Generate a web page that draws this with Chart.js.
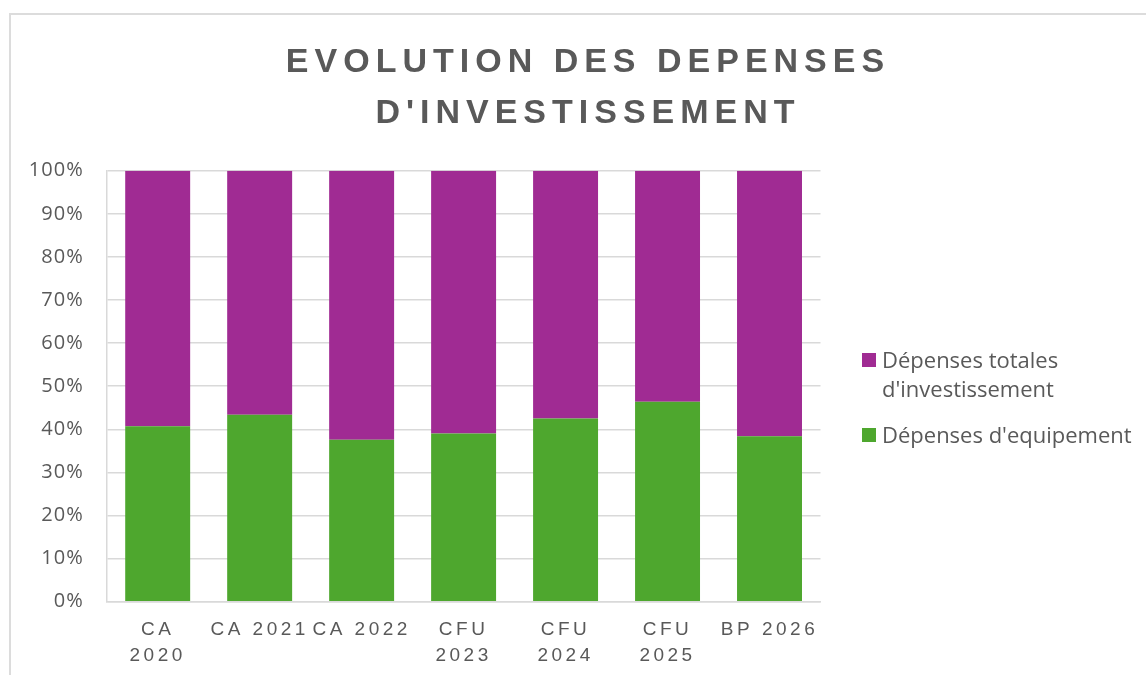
<!DOCTYPE html>
<html>
<head>
<meta charset="utf-8">
<script src="https://cdn.jsdelivr.net/npm/chart.js@4.4.1/dist/chart.umd.min.js"></script>
<style>
html,body{margin:0;padding:0;background:#fff;}
#wrap{position:relative;width:1146px;height:675px;overflow:hidden;background:#fff;}
#frame{position:absolute;left:9px;top:13px;width:1300px;height:800px;border:2px solid #dcdcdc;box-sizing:border-box;}
#c{position:absolute;left:0;top:0;}
#legend{position:absolute;left:862px;top:345px;font-family:"Open Sans",sans-serif;font-size:22px;line-height:29px;color:#595959;}
.item{display:flex;align-items:flex-start;margin-bottom:17px;}
.box{width:14px;height:14px;margin-top:8px;margin-right:6px;flex:none;}
.txt{max-width:262px;white-space:normal;}
</style>
</head>
<body>
<div id="wrap">
  <div id="frame"></div>
  <canvas id="c" width="1146" height="675"></canvas>
  <div id="legend"></div>
</div>
<script>
const categories = [["CA","2020"], "CA 2021", "CA 2022", ["CFU","2023"], ["CFU","2024"], ["CFU","2025"], "BP 2026"];
const depensesEquipement = [40.7, 43.4, 37.6, 39.0, 42.5, 46.4, 38.4];
const depensesTotales = [59.3, 56.6, 62.4, 61.0, 57.5, 53.6, 61.6];
const yTickValues = [0, 10, 20, 30, 40, 50, 60, 70, 80, 90, 100];
const seriesNames = ["Dépenses d'equipement", "Dépenses totales d'investissement"];
const titleLines = ["EVOLUTION DES DEPENSES", "D'INVESTISSEMENT"];

const GREEN = '#4EA72E', PURPLE = '#A02B93', TEXT = '#595959', GRID = '#d9d9d9';

const spacingPlugin = {
  id: 'spacing',
  beforeDraw(chart) {
    const ctx = chart.ctx;
    const patch = (obj, fnName, spacing, dx) => {
      if (!obj || obj['__p_' + fnName]) return;
      const orig = obj[fnName];
      obj[fnName] = function(...args) {
        ctx.save();
        ctx.letterSpacing = spacing;
        if (dx) ctx.translate(dx(), 0);
        const r = orig.apply(this, args);
        ctx.restore();
        return r;
      };
      obj['__p_' + fnName] = true;
    };
    patch(chart.scales.x, 'drawLabels', '3.5px');
    patch(chart.scales.y, 'drawLabels', '1px');
    const tb = chart.titleBlock;
    patch(tb, 'draw', '6px', () => 588 - (tb.left + tb.width / 2));
  }
};

const chart = new Chart(document.getElementById('c'), {
  type: 'bar',
  data: {
    labels: categories,
    datasets: [
      { label: seriesNames[0], data: depensesEquipement, backgroundColor: GREEN, borderWidth: 0 },
      { label: seriesNames[1], data: depensesTotales, backgroundColor: PURPLE, borderWidth: 0 }
    ]
  },
  options: {
    responsive: false,
    animation: false,
    events: [],
    categoryPercentage: 1,
    barPercentage: 0.637,
    layout: { padding: { left: 0, right: 325.5, top: 0, bottom: 3.3 } },
    plugins: {
      legend: { display: false },
      tooltip: { enabled: false },
      title: {
        display: true,
        text: titleLines,
        color: TEXT,
        font: { family: '"Liberation Sans", Arial, sans-serif', size: 34, weight: 'bold', lineHeight: 1.5 },
        padding: { top: 37.5, bottom: 31.2 }
      }
    },
    scales: {
      x: {
        stacked: true,
        afterFit(scale) { scale.height = 70; },
        grid: { display: false, drawTicks: false },
        border: { display: true, color: GRID, width: 1.5 },
        ticks: {
          color: TEXT,
          padding: 15,
          maxRotation: 0,
          autoSkip: false,
          font: { family: '"Liberation Sans", Arial, sans-serif', size: 19, lineHeight: 26/19 }
        }
      },
      y: {
        stacked: true,
        min: 0,
        max: 100,
        afterFit(scale) { scale.width = 106.7; },
        afterBuildTicks(scale) { scale.ticks = yTickValues.map(v => ({ value: v })); },
        grid: { color: GRID, lineWidth: 1.5, drawTicks: false },
        border: { display: true, color: GRID, width: 1.5 },
        ticks: {
          color: TEXT,
          padding: 23,
          callback: v => v + '%',
          font: { family: '"Open Sans", sans-serif', size: 20 }
        }
      }
    }
  },
  plugins: [spacingPlugin]
});

// Legend built from the chart's datasets (reversed order, as in the reference)
const legendEl = document.getElementById('legend');
chart.data.datasets.slice().reverse().forEach(ds => {
  const item = document.createElement('div');
  item.className = 'item';
  const box = document.createElement('div');
  box.className = 'box';
  box.style.background = ds.backgroundColor;
  const txt = document.createElement('div');
  txt.className = 'txt';
  txt.textContent = ds.label;
  item.appendChild(box);
  item.appendChild(txt);
  legendEl.appendChild(item);
});
</script>
</body>
</html>
